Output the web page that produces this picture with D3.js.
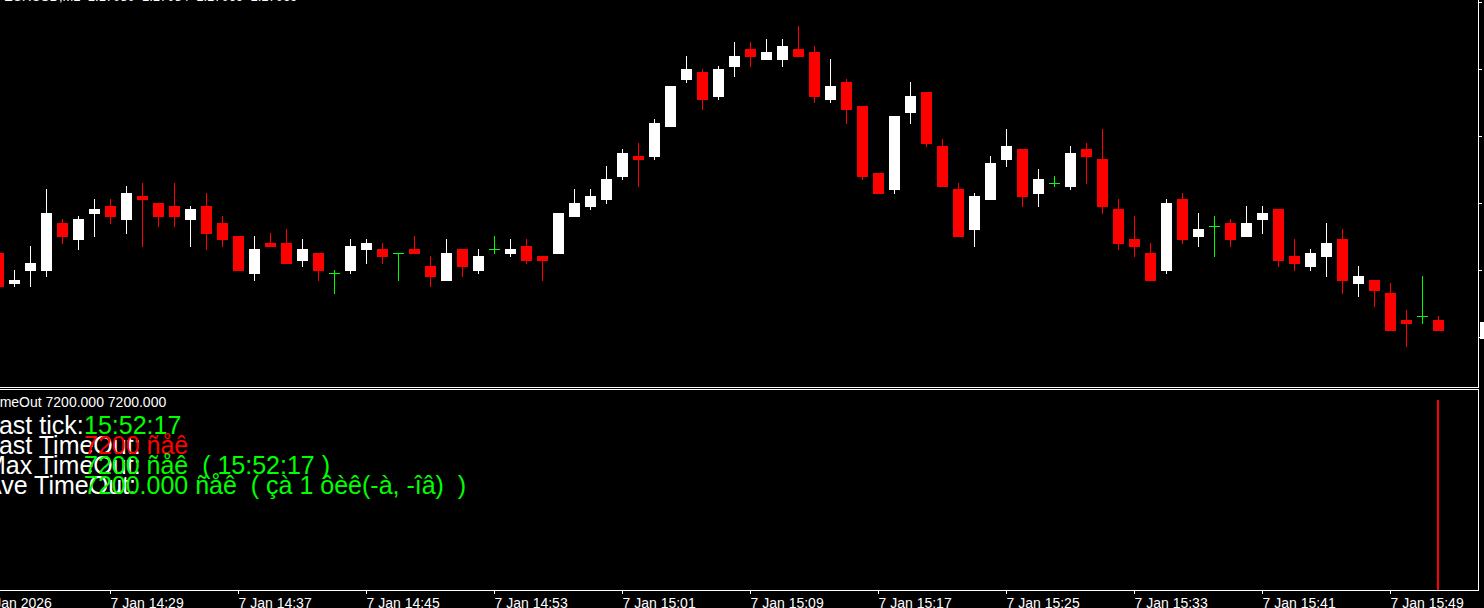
<!DOCTYPE html>
<html lang="en">
<head>
    <meta charset="UTF-8">
    <title>EURUSD,M1</title>
    <style>
        html, body { margin:0; padding:0; background:#000; overflow:hidden; }
        svg { display:block; font-family:"Liberation Sans", Arial, sans-serif; }
        .pre { white-space:pre; }
    </style>
</head>
<body>
    <div id="chart"></div>
    <script src="https://cdn.jsdelivr.net/npm/d3@7"></script>
    <script>
        // M1 candles, 7 Jan 2026
        var times = ["14:22","14:23","14:24","14:25","14:26","14:27","14:28","14:29","14:30","14:31",
                     "14:32","14:33","14:34","14:35","14:36","14:37","14:38","14:39","14:40","14:41",
                     "14:42","14:43","14:44","14:45","14:46","14:47","14:48","14:49","14:50","14:51",
                     "14:52","14:53","14:54","14:55","14:56","14:57","14:58","14:59","15:00","15:01",
                     "15:02","15:03","15:04","15:05","15:06","15:07","15:08","15:09","15:10","15:11",
                     "15:12","15:13","15:14","15:15","15:16","15:17","15:18","15:19","15:20","15:21",
                     "15:22","15:23","15:24","15:25","15:26","15:27","15:28","15:29","15:30","15:31",
                     "15:32","15:33","15:34","15:35","15:36","15:37","15:38","15:39","15:40","15:41",
                     "15:42","15:43","15:44","15:45","15:46","15:47","15:48","15:49","15:50","15:51","15:52"];

        var open = [1.17147,1.17116,1.17129,1.17129,1.17177,1.17160,1.17186,1.17194,1.17180,1.17204,
                    1.17197,1.17194,1.17180,1.17194,1.17177,1.17164,1.17126,1.17157,1.17157,1.17139,
                    1.17147,1.17127,1.17129,1.17150,1.17151,1.17147,1.17151,1.17134,1.17119,1.17151,
                    1.17129,1.17151,1.17146,1.17154,1.17144,1.17146,1.17183,1.17193,1.17200,1.17223,
                    1.17244,1.17243,1.17273,1.17320,1.17328,1.17303,1.17333,1.17351,1.17340,1.17340,
                    1.17351,1.17348,1.17300,1.17318,1.17294,1.17227,1.17210,1.17287,1.17308,1.17254,
                    1.17211,1.17170,1.17200,1.17240,1.17251,1.17206,1.17217,1.17213,1.17251,1.17241,
                    1.17191,1.17161,1.17147,1.17129,1.17201,1.17163,1.17174,1.17177,1.17163,1.17180,
                    1.17191,1.17144,1.17133,1.17143,1.17161,1.17116,1.17120,1.17107,1.17080,1.17084,1.17080];

        var high = [1.17150,1.17130,1.17154,1.17211,1.17181,1.17184,1.17201,1.17201,1.17214,1.17217,
                    1.17197,1.17217,1.17194,1.17207,1.17184,1.17164,1.17164,1.17167,1.17171,1.17161,
                    1.17147,1.17130,1.17161,1.17161,1.17157,1.17147,1.17164,1.17144,1.17161,1.17151,
                    1.17151,1.17164,1.17161,1.17161,1.17144,1.17187,1.17211,1.17211,1.17234,1.17251,
                    1.17257,1.17281,1.17314,1.17344,1.17331,1.17334,1.17358,1.17358,1.17361,1.17361,
                    1.17374,1.17354,1.17341,1.17321,1.17294,1.17227,1.17284,1.17318,1.17308,1.17261,
                    1.17217,1.17207,1.17244,1.17271,1.17251,1.17231,1.17224,1.17254,1.17257,1.17271,
                    1.17201,1.17184,1.17157,1.17201,1.17207,1.17187,1.17184,1.17181,1.17194,1.17194,
                    1.17191,1.17161,1.17151,1.17177,1.17171,1.17134,1.17120,1.17117,1.17090,1.17124,1.17084];

        var low = [1.17110,1.17113,1.17113,1.17123,1.17156,1.17150,1.17163,1.17176,1.17166,1.17153,
                   1.17173,1.17173,1.17153,1.17150,1.17153,1.17129,1.17119,1.17153,1.17136,1.17133,
                   1.17119,1.17106,1.17126,1.17136,1.17136,1.17119,1.17146,1.17113,1.17119,1.17123,
                   1.17126,1.17146,1.17143,1.17136,1.17119,1.17146,1.17183,1.17190,1.17196,1.17220,
                   1.17213,1.17240,1.17273,1.17317,1.17290,1.17300,1.17323,1.17333,1.17340,1.17333,
                   1.17343,1.17297,1.17297,1.17276,1.17220,1.17206,1.17206,1.17276,1.17253,1.17213,
                   1.17163,1.17153,1.17200,1.17233,1.17193,1.17193,1.17213,1.17210,1.17216,1.17186,
                   1.17150,1.17143,1.17119,1.17126,1.17156,1.17153,1.17143,1.17153,1.17163,1.17166,
                   1.17133,1.17129,1.17129,1.17123,1.17106,1.17103,1.17093,1.17069,1.17053,1.17076,1.17069];

        var close = [1.17113,1.17120,1.17137,1.17187,1.17163,1.17181,1.17191,1.17183,1.17207,1.17200,
                     1.17183,1.17183,1.17191,1.17166,1.17160,1.17129,1.17151,1.17153,1.17136,1.17151,
                     1.17129,1.17127,1.17154,1.17157,1.17143,1.17147,1.17146,1.17123,1.17147,1.17133,
                     1.17144,1.17151,1.17151,1.17139,1.17139,1.17187,1.17197,1.17204,1.17221,1.17247,
                     1.17240,1.17277,1.17314,1.17331,1.17300,1.17331,1.17344,1.17343,1.17348,1.17354,
                     1.17343,1.17303,1.17314,1.17290,1.17223,1.17206,1.17284,1.17304,1.17256,1.17213,
                     1.17163,1.17204,1.17237,1.17254,1.17203,1.17221,1.17217,1.17247,1.17243,1.17193,
                     1.17156,1.17153,1.17119,1.17197,1.17160,1.17171,1.17174,1.17160,1.17177,1.17187,
                     1.17139,1.17136,1.17147,1.17157,1.17119,1.17124,1.17109,1.17069,1.17076,1.17084,1.17069];

        // price scale marks (labels sit outside the window)
        var priceTicks = [1.17398, 1.17331, 1.17264, 1.17197, 1.17130, 1.17063];

        // time axis
        var tickTimes = ["14:21","14:29","14:37","14:45","14:53","15:01","15:09","15:17","15:25","15:33","15:41","15:49"];
        var tickLabels = ["7 Jan 2026","7 Jan 14:29","7 Jan 14:37","7 Jan 14:45","7 Jan 14:53","7 Jan 15:01",
                          "7 Jan 15:09","7 Jan 15:17","7 Jan 15:25","7 Jan 15:33","7 Jan 15:41","7 Jan 15:49"];

        // TimeOut indicator window
        var timeoutTimes = ["15:52"];
        var timeoutValues = [7200];
        var timeoutTitle = "TimeOut 7200.000 7200.000";
        var infoLabels = ["Last tick:", "Last TimeOut:", "Max TimeOut:", "Ave TimeOut:"];
        var infoValues = ["15:52:17", "7200 ñåê", "7200 ñåê  ( 15:52:17 )", "7200.000 ñåê  ( çà 1 ôèê(-à, -îâ)  )"];
        var infoColors = ["#00ff00", "#ff0000", "#00ff00", "#00ff00"];

        var W = 1484, H = 608;
        var axisX = 1478;

        var parse = d3.timeParse("%Y-%m-%d %H:%M");
        var toDate = function(t) { return parse("2026-01-07 " + t); };

        var data = times.map(function(t, i) {
            return {t: toDate(t), o: open[i], h: high[i], l: low[i], c: close[i]};
        });

        var x = d3.scaleTime()
                  .domain([toDate("14:29"), toDate("15:49")])
                  .range([110, 1390]);

        var y = d3.scaleLinear()
                  .domain([1.17, 1.174])
                  .range([400, 0]);

        var ySub = d3.scaleLinear()
                     .domain([0, 7200])
                     .range([590, 400]);

        var svg = d3.select("#chart")
                    .append("svg")
                    .attr("width", W)
                    .attr("height", H)
                    .style("background", "#000");

        var py = function(p) { return Math.round(y(p)); };
        var px = function(d) { return Math.round(x(d)); };

        function candleColor(d) {
            if (d.c > d.o) return "#ffffff";
            if (d.c < d.o) return "#ff0000";
            return "#00ff00";
        }

        // title line (mostly clipped at the top)
        var last = data[data.length - 1];
        svg.append("text")
           .attr("class", "pre")
           .attr("x", 4)
           .attr("y", 1)
           .attr("fill", "#fff")
           .style("font-size", "13px")
           .text("EURUSD,M1  " + [last.o, last.h, last.l, last.c].map(function(v) { return v.toFixed(5); }).join("  "));

        // candles
        var candles = svg.append("g")
                         .attr("shape-rendering", "crispEdges")
                         .selectAll("g")
                         .data(data)
                         .enter()
                         .append("g");

        candles.append("rect")
               .attr("x", function(d) { return px(d.t); })
               .attr("y", function(d) { return py(d.h); })
               .attr("width", 1)
               .attr("height", function(d) { return Math.max(1, py(d.l) - py(d.h)); })
               .attr("fill", candleColor);

        candles.append("rect")
               .attr("x", function(d) { return px(d.t) - 5; })
               .attr("y", function(d) { return Math.min(py(d.o), py(d.c)); })
               .attr("width", 11)
               .attr("height", function(d) { return Math.max(1, Math.abs(py(d.o) - py(d.c))); })
               .attr("fill", candleColor);

        // window frames
        var frame = svg.append("g").attr("stroke", "#fff").attr("stroke-width", 1).attr("shape-rendering", "crispEdges");
        frame.append("line").attr("x1", 0).attr("x2", axisX + 1).attr("y1", 387.5).attr("y2", 387.5);
        frame.append("line").attr("x1", 0).attr("x2", axisX + 1).attr("y1", 389.5).attr("y2", 389.5);
        frame.append("line").attr("x1", 0).attr("x2", axisX + 1).attr("y1", 590.5).attr("y2", 590.5);
        frame.append("line").attr("x1", axisX + 0.5).attr("x2", axisX + 0.5).attr("y1", 0).attr("y2", 388);
        frame.append("line").attr("x1", axisX + 0.5).attr("x2", axisX + 0.5).attr("y1", 389).attr("y2", 591);

        // price scale ticks
        var yAxis = svg.append("g")
                       .attr("transform", "translate(" + (axisX + 1) + ",0)")
                       .call(d3.axisRight(y).tickValues(priceTicks).tickSize(3).tickFormat(""));
        yAxis.select(".domain").remove();
        yAxis.selectAll("line").attr("stroke", "#fff").attr("shape-rendering", "crispEdges");

        // current price label
        svg.append("rect")
           .attr("x", axisX + 2)
           .attr("y", py(last.c) - 9)
           .attr("width", 40)
           .attr("height", 17)
           .attr("fill", "#fff");

        // TimeOut histogram
        svg.append("g")
           .attr("shape-rendering", "crispEdges")
           .selectAll("rect")
           .data(timeoutTimes)
           .enter()
           .append("rect")
           .attr("x", function(d) { return px(toDate(d)) - 1; })
           .attr("y", function(d, i) { return ySub(timeoutValues[i]); })
           .attr("width", 2)
           .attr("height", function(d, i) { return ySub(0) - ySub(timeoutValues[i]); })
           .attr("fill", "#ff0000");

        svg.append("text")
           .attr("x", -11.5)
           .attr("y", 407)
           .attr("fill", "#fff")
           .style("font-size", "14px")
           .text(timeoutTitle);

        var info = svg.append("g").style("font-size", "25px");
        info.selectAll("text.lbl")
            .data(infoLabels)
            .enter()
            .append("text")
            .attr("class", "lbl pre")
            .attr("x", -15)
            .attr("y", function(d, i) { return 434 + i * 20; })
            .attr("fill", "#fff")
            .text(function(d) { return d; });
        info.selectAll("text.val")
            .data(infoValues)
            .enter()
            .append("text")
            .attr("class", "val pre")
            .attr("x", 84)
            .attr("y", function(d, i) { return 434 + i * 20; })
            .attr("fill", function(d, i) { return infoColors[i]; })
            .text(function(d) { return d; });

        // time axis
        var xAxis = svg.append("g")
                       .attr("transform", "translate(0,591)")
                       .call(d3.axisBottom(x)
                               .tickValues(tickTimes.map(toDate))
                               .tickSize(3)
                               .tickFormat(function(d, i) { return tickLabels[i]; }));
        xAxis.select(".domain").remove();
        xAxis.selectAll("line").attr("stroke", "#fff").attr("shape-rendering", "crispEdges");
        xAxis.selectAll("text")
             .attr("fill", "#fff")
             .attr("text-anchor", "start")
             .attr("x", 0)
             .attr("y", 17)
             .attr("dy", 0)
             .style("font-size", "14px")
             .style("font-family", "'Liberation Sans', Arial, sans-serif");
    </script>
</body>
</html>
